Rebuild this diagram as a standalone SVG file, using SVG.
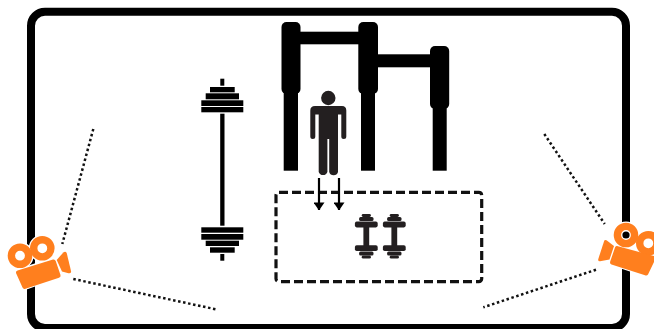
<svg xmlns="http://www.w3.org/2000/svg" width="654" height="329" viewBox="0 0 654 329">
<style>
.dot{fill:none;stroke:#111;stroke-width:2.5;stroke-dasharray:2.5 2.6}
.arrow{fill:none;stroke:#000;stroke-width:2.2;marker-end:url(#head)}
.k{fill:#000}
.d{fill:#231f20}
.o{fill:#ff7f1e}
.ring{fill:none;stroke:#ff7f1e;stroke-width:7.4}
.halo{fill:none;stroke:#fff;stroke-width:10}
</style>
<defs>
<marker id="head" markerUnits="userSpaceOnUse" markerWidth="8" markerHeight="11" refX="7.6" refY="5.5" orient="auto" viewBox="0 0 8 11"><path d="M0 0L8 5.5L0 11Z" fill="#000"/></marker>
<g id="bell">
<rect x="-2.9" y="-9.7" width="5.8" height="19.4" class="d"/>
<rect x="-11.4" y="-14.7" width="22.8" height="5.8" rx="1.8" class="d"/>
<rect x="-7.2" y="-19.2" width="14.4" height="4" rx="1.5" class="d"/>
<rect x="-4.6" y="-22.3" width="9.2" height="3" rx="1.4" class="d"/>
<rect x="-11.4" y="8.9" width="22.8" height="5.8" rx="1.8" class="d"/>
<rect x="-7.2" y="15.2" width="14.4" height="4" rx="1.5" class="d"/>
<rect x="-4.6" y="19.3" width="9.2" height="3" rx="1.4" class="d"/>
</g>
</defs>
<rect width="654" height="329" fill="#fff"/>
<g id="frame"><rect x="31" y="11.7" width="595" height="316.3" rx="14" fill="none" stroke="#000" stroke-width="8"/></g>
<g id="gate" class="k">
<rect x="283.7" y="80" width="14.3" height="90.7"/>
<rect x="361" y="80" width="14" height="90.7"/>
<rect x="432.7" y="95" width="14" height="75.7"/>
<rect x="295" y="31.7" width="70" height="12.6"/>
<rect x="372" y="54.3" width="65" height="13"/>
<rect x="281.5" y="22" width="19" height="72" rx="5"/>
<rect x="358.3" y="22" width="19.7" height="72" rx="5"/>
<rect x="430" y="46" width="19.2" height="63" rx="5"/>
</g>
<g id="person" class="d">
<circle cx="328.3" cy="98" r="7.2"/>
<path d="M315 106H342Q346.3 106 346.3 110.5V136.5A2.5 2.5 0 0 1 341.3 136.5V114.5H338V172A4.6 4.6 0 0 1 329.2 172V139H327.4V172A4.6 4.6 0 0 1 318.7 172V114.5H315.3V136.5A2.5 2.5 0 0 1 310.3 136.5V110.5Q310.3 106 315 106Z"/>
</g>
<g id="barbell" class="k">
<rect x="220.3" y="78.7" width="4" height="7"/>
<rect x="210" y="87" width="24.7" height="5.3"/>
<rect x="205.7" y="93.3" width="33.3" height="6"/>
<rect x="201.3" y="100.3" width="42" height="5.7"/>
<rect x="201.3" y="107" width="42" height="5.3"/>
<rect x="220.2" y="113.7" width="4.3" height="112"/>
<rect x="201.3" y="227.3" width="42" height="5.4"/>
<rect x="201.3" y="234" width="42" height="5.7"/>
<rect x="205.7" y="240.7" width="33.3" height="5.3"/>
<rect x="210" y="247.3" width="24.7" height="5.4"/>
<rect x="220.3" y="254" width="4" height="6.7"/>
</g>
<g id="zone"><rect x="276" y="192.3" width="205.7" height="89.4" rx="3" fill="none" stroke="#111" stroke-width="3.2" stroke-dasharray="9 4"/></g>
<g id="dumbbells">
<use href="#bell" x="366.3" y="236.3"/>
<use href="#bell" x="394.3" y="236.3"/>
</g>
<g id="connectors">
<path class="dot" d="M93.3 129L62.3 244"/>
<path class="dot" d="M73.3 279L216 309.3"/>
<path class="dot" d="M544.3 134L604.7 224"/>
<path class="dot" d="M596 269.7L483.3 307.3"/>
<path class="arrow" d="M319 178V210"/>
<path class="arrow" d="M339 178V210"/>
</g>
<g id="camera-left">
<path d="M16.7 271L55 258.3L60 276L23.3 289Z" fill="#fff" stroke="#fff" stroke-width="3"/>
<circle class="halo" cx="20" cy="255.7" r="8.6"/>
<circle class="halo" cx="42.3" cy="248.3" r="8.6"/>
<circle class="ring" cx="20" cy="255.7" r="8.6"/>
<circle class="ring" cx="42.3" cy="248.3" r="8.6"/>
<path class="o" d="M17.5 270.5L53 259.5Q55 259 55.7 261L60.5 275Q61 277 59 277.7L25.5 288.8Q23.3 289.5 22.5 287.5L16 273Q15.5 271 17.5 270.5Z"/>
<path class="o" d="M56.7 260L63.3 252.5Q65.5 251 66.7 253L71 271Q71.5 273.5 68.5 273.2L62 271.5Z"/>
</g>
<g id="camera-right">
<path d="M616.7 245L654 253L647 275.5L610 263.3Z" fill="#fff" stroke="#fff" stroke-width="3"/>
<circle class="halo" cx="626" cy="235" r="8.6"/>
<circle class="halo" cx="648.3" cy="243.3" r="8.6"/>
<circle class="ring" cx="626" cy="235" r="8.6"/>
<circle class="ring" cx="648.3" cy="243.3" r="8.6"/>
<path class="o" d="M617 246L654 256V262L648 274.5Q647 276 645 275.3L611.5 264.5Q609.5 263.7 610.2 261.5L615 247.5Q615.5 245.7 617 246Z"/>
<path class="o" d="M604.3 240.5Q605 239.5 606.5 240.3L614 246L609.5 259.5L600 261.3Q597.7 261.5 598.3 259Z"/>
</g>
</svg>
